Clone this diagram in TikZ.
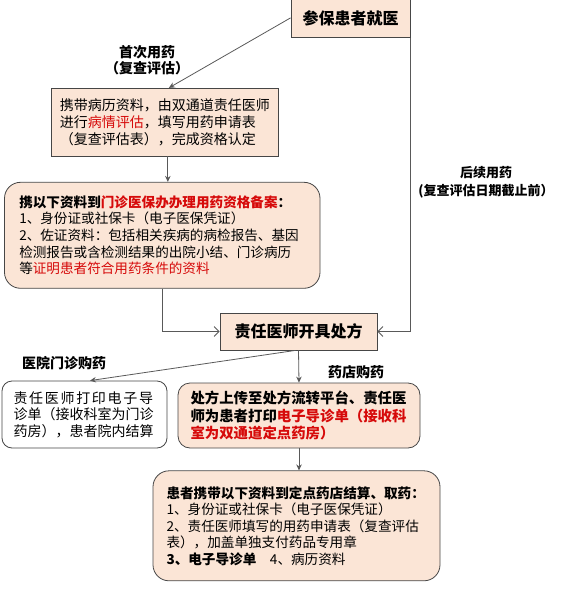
\documentclass[tikz,border=0pt]{standalone}
\usepackage{fontspec}
\setmainfont{Noto Sans CJK SC}
\usetikzlibrary{arrows.meta}
\definecolor{boxfill}{RGB}{251,229,214}
\definecolor{boxline}{RGB}{70,70,70}
\definecolor{hilite}{RGB}{214,10,10}
\newcommand{\hl}[1]{\textcolor{hilite}{#1}}
\newcommand{\ls}{\kern1.7pt}

\begin{document}
\begin{tikzpicture}[x=1pt,y=-1pt,
  sqbox/.style={draw=boxline,fill=boxfill,line width=0.8pt,inner sep=0pt},
  rdbox/.style={sqbox,rounded corners=14pt},
  lbl/.style={font=\fontsize{14}{16.6}\selectfont\bfseries,align=center,inner sep=0pt},
  link/.style={draw=black!65,line width=0.8pt},
  fillhead/.style={-{Stealth[length=6pt,width=5.5pt]}},
  openhead/.style={-{Straight Barb[length=5pt,width=10pt]}}]
\useasboundingbox (0,0) rectangle (583,596);

\node[sqbox,minimum width=119pt,minimum height=39.7pt,font=\fontsize{16}{19}\selectfont\bfseries] (visit) at (350.5,17.85) {参保患者就医};

\node[sqbox,minimum width=227.7pt,minimum height=67.7pt,text width=210pt,align=left,font=\fontsize{14}{17.2}\selectfont] (assess) at (164.85,122.15)
  {携带病历资料，由双通道责任医师\\进行\hl{病情评估}，填写用药申请表\\（复查评估表），完成资格认定};

\node[rdbox,rounded corners=16pt,minimum width=315.5pt,minimum height=106pt,text width=286pt,align=left,font=\fontsize{13.6}{16.6}\selectfont] (rec) at (162.25,235.3)
  {\textbf{携以下资料到\hl{门诊医保办办理用药资格备案}：}\\
   1、身份证或社保卡（电子医保凭证）\\
   2、佐证资料：包括相关疾病的病检报告、基因\\
   检测报告或含检测结果的出院小结、门诊病历\\
   等\hl{证明患者符合用药条件的资料}};

\node[sqbox,minimum width=157pt,minimum height=37pt,font=\fontsize{16}{19}\selectfont\bfseries] (presc) at (298.5,331.5) {责任医师开具处方};

\node[rdbox,rounded corners=10pt,fill=white,minimum width=165pt,minimum height=67pt,text width=142pt,align=left,font=\fontsize{14}{16.6}\selectfont] (hosp) at (84.5,414.5)
  {责\ls 任\ls 医\ls 师\ls 打\ls 印\ls 电\ls 子\ls 导\\诊单（接收科室为门诊\\药房），患者院内结算};

\node[rdbox,rounded corners=12pt,minimum width=242pt,minimum height=65pt,text width=217pt,align=left,font=\fontsize{14.4}{17.4}\selectfont\bfseries] (pharm) at (299,415.5)
  {处方上传至处方流转平台、责任医\\师为患者打印\hl{电子导诊单（接收科}\\\hl{室为双通道定点药房）}};

\node[rdbox,rounded corners=16pt,minimum width=287pt,minimum height=110pt,text width=260pt,align=left,font=\fontsize{13.6}{16.5}\selectfont] (settle) at (296.5,525.8)
  {\textbf{患者携带以下资料到定点药店结算、取药：}\\
   1、身份证或社保卡（电子医保凭证）\\
   2、责任医师填写的用药申请表（复查评估\\
   表），加盖单独支付药品专用章\\
   \textbf{3、电子导诊单}\quad 4、病历资料};

\node[lbl] (first) at (147,60) {首次用药\\（复查评估）};
\node[lbl,font=\fontsize{13}{18.4}\selectfont\bfseries] (follow) at (486,182.5) {后续用药\\(复查评估日期截止前）};
\node[lbl] (byhosp) at (64,362.7) {医院门诊购药};
\node[lbl] (byshop) at (356,371.7) {药店购药};

\draw[link,fillhead] (visit.west) -- ([xshift=4pt]assess.north);
\draw[link,fillhead] ([xshift=3pt]assess.south) -- ([xshift=3pt]assess.south |- rec.north);
\draw[link,openhead] (rec.south) |- (presc.west);
\draw[link,openhead] (visit.south east) |- (presc.east);
\draw[link,fillhead] ([xshift=-3pt]presc.south) -- ([xshift=5.5pt]hosp.north);
\draw[link,fillhead] (presc.south) -- (pharm.north);
\draw[link,fillhead] (pharm.south) -- (pharm.south |- settle.north);
\end{tikzpicture}
\end{document}
